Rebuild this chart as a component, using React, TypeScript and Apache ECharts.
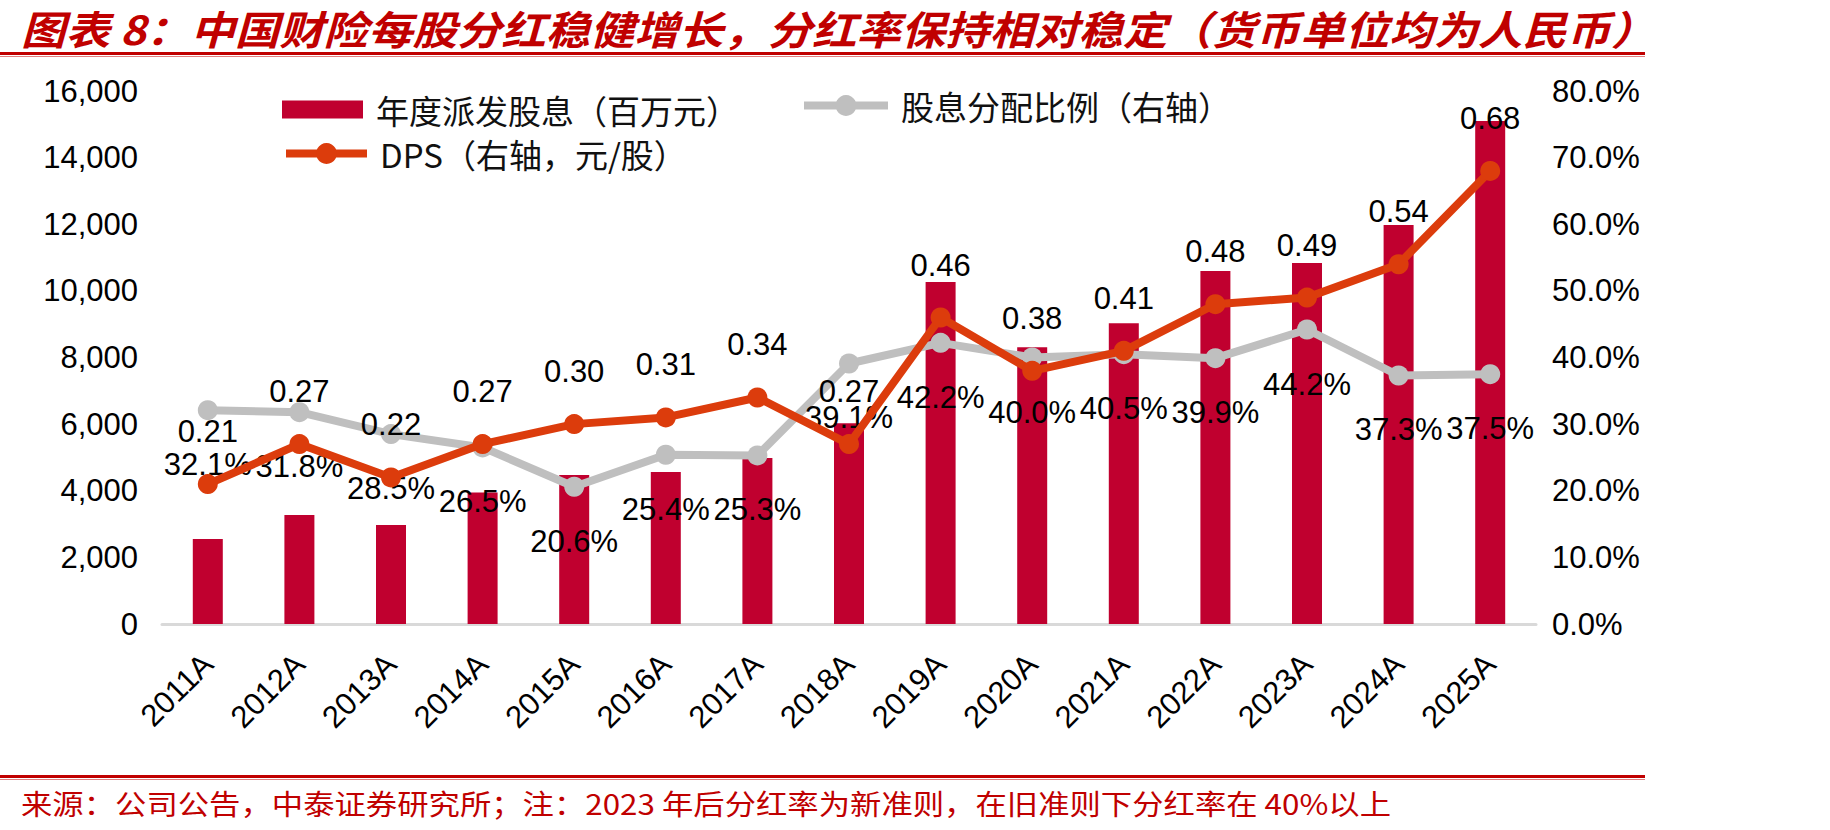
import React, { useEffect, useRef } from "react";
import * as echarts from "echarts";

const years = ["2011A","2012A","2013A","2014A","2015A","2016A","2017A","2018A","2019A","2020A","2021A","2022A","2023A","2024A","2025A"];
const dividends = [2550, 3270, 2970, 3950, 4470, 4560, 4980, 6030, 10270, 8310, 9030, 10600, 10840, 11980, 15100];
const payoutRatio = [32.1, 31.8, 28.5, 26.5, 20.6, 25.4, 25.3, 39.1, 42.2, 40.0, 40.5, 39.9, 44.2, 37.3, 37.5];
const dps = [0.21, 0.27, 0.22, 0.27, 0.30, 0.31, 0.34, 0.27, 0.46, 0.38, 0.41, 0.48, 0.49, 0.54, 0.68];

const titleText = "图表 8：中国财险每股分红稳健增长，分红率保持相对稳定（货币单位均为人民币）";
const noteText = "来源：公司公告，中泰证券研究所；注：2023 年后分红率为新准则，在旧准则下分红率在 40%以上";
const nameBar = "年度派发股息（百万元）";
const nameRatio = "股息分配比例（右轴）";
const nameDps = "DPS（右轴，元/股）";

const RED = "#C00000";
const BAR = "#C0002F";
const ORANGE = "#DC3C0C";
const GRAY = "#BFBFBF";
const NUMFONT = "Liberation Sans, Arial, sans-serif";
const CJK = "Noto Sans CJK SC, sans-serif";

export default function App() {
  const ref = useRef<HTMLDivElement>(null);
  useEffect(() => {
    document.body.style.margin = "0";
    const chart = echarts.init(ref.current!, null, { renderer: "svg" });
    const legendText = { fontSize: 33, color: "#111", fontFamily: CJK, padding: [0, 0, 0, 8] };
    chart.setOption({
      animation: false,
      backgroundColor: "#fff",
      grid: { left: 162, right: 294, top: 91, bottom: 206, containLabel: false },
      legend: [
        { left: 277, top: 88, itemWidth: 81, itemHeight: 18, data: [{ name: nameBar, icon: "rect" }], textStyle: legendText },
        { left: 795, top: 84, itemWidth: 84, itemHeight: 26, data: [nameRatio], textStyle: legendText, lineStyle: { width: 8 } },
        { left: 277, top: 132, itemWidth: 81, itemHeight: 26, data: [nameDps], textStyle: legendText, lineStyle: { width: 8 } },
      ],
      xAxis: {
        type: "category",
        data: years,
        axisLine: { lineStyle: { color: "#D9D9D9", width: 3 } },
        axisTick: { show: false },
        axisLabel: { rotate: 45, interval: 0, margin: 35, fontSize: 31, color: "#000", fontFamily: NUMFONT },
      },
      yAxis: [
        {
          type: "value", min: 0, max: 16000, interval: 2000,
          splitLine: { show: false }, axisLine: { show: false }, axisTick: { show: false },
          axisLabel: { margin: 24, fontSize: 31, color: "#000", fontFamily: NUMFONT, formatter: (v: number) => v.toLocaleString("en-US") },
        },
        {
          type: "value", min: 0, max: 80, interval: 10, position: "right",
          splitLine: { show: false }, axisLine: { show: false }, axisTick: { show: false },
          axisLabel: { margin: 16, fontSize: 31, color: "#000", fontFamily: NUMFONT, formatter: (v: number) => v.toFixed(1) + "%" },
        },
      ],
      series: [
        { name: nameBar, type: "bar", data: dividends, barWidth: 30, itemStyle: { color: BAR } },
        {
          name: nameRatio, type: "line", yAxisIndex: 1, data: payoutRatio,
          symbol: "circle", symbolSize: 20, lineStyle: { color: GRAY, width: 8 }, itemStyle: { color: GRAY },
          label: { show: true, position: "bottom", distance: 29, fontSize: 31, color: "#000", fontFamily: NUMFONT, formatter: (p: any) => p.value.toFixed(1) + "%" },
          z: 3,
        },
        {
          name: nameDps, type: "line", yAxisIndex: 1, data: dps.map((v) => v * 100),
          symbol: "circle", symbolSize: 20, lineStyle: { color: ORANGE, width: 8 }, itemStyle: { color: ORANGE },
          label: { show: true, position: "top", distance: 27, fontSize: 31, color: "#000", fontFamily: NUMFONT, formatter: (p: any) => dps[p.dataIndex].toFixed(2) },
          z: 4,
        },
      ],
      graphic: [
        {
          type: "text", x: 21, y: 27, scaleX: 1.11,
          style: { text: titleText, fontSize: 40, fontWeight: "bold", fontStyle: "italic", fontFamily: CJK, fill: RED, verticalAlign: "middle", textVerticalAlign: "middle" },
        },
        { type: "rect", shape: { x: 0, y: 52, width: 1645, height: 3 }, style: { fill: RED } },
        { type: "rect", shape: { x: 0, y: 56, width: 1645, height: 1 }, style: { fill: "#E08080" } },
        { type: "rect", shape: { x: 0, y: 775, width: 1645, height: 3 }, style: { fill: RED } },
        { type: "rect", shape: { x: 0, y: 779, width: 1645, height: 1 }, style: { fill: "#E08080" } },
        {
          type: "text", x: 21, y: 803, scaleX: 1.12,
          style: { text: noteText, fontSize: 28, fontFamily: CJK, fill: RED, verticalAlign: "middle", textVerticalAlign: "middle" },
        },
      ],
    });
    return () => chart.dispose();
  }, []);
  return <div ref={ref} style={{ width: 1830, height: 830 }} />;
}
